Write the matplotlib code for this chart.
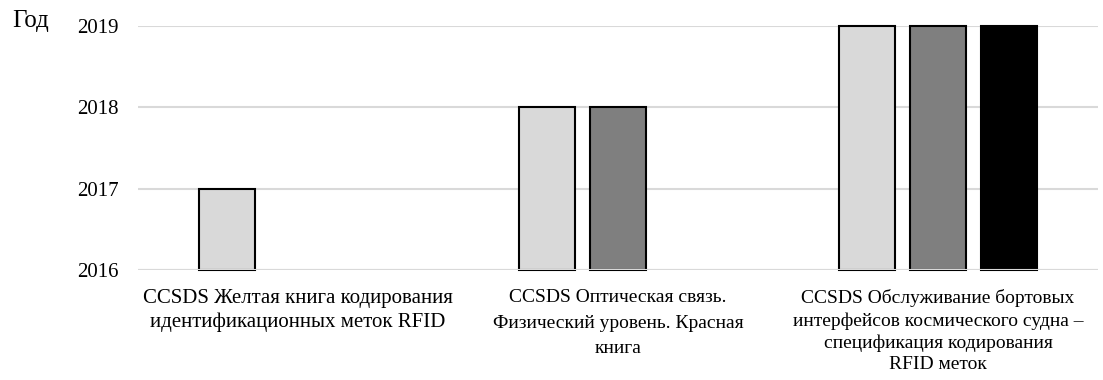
import matplotlib
matplotlib.use("Agg")
import matplotlib.pyplot as plt
import numpy as np

categories = [
    "CCSDS Желтая книга кодирования\nидентификационных меток RFID",
    "CCSDS Оптическая связь.\nФизический уровень. Красная\nкнига",
    "CCSDS Обслуживание бортовых\nинтерфейсов космического судна –\nспецификация кодирования\nRFID меток",
]
series1 = [2017, 2018, 2019]
series2 = [np.nan, 2018, 2019]
series3 = [np.nan, np.nan, 2019]
yticks = [2016, 2017, 2018, 2019]
ylabel = "Год"

plt.rcParams['font.family'] = ['Liberation Serif', 'DejaVu Serif']
fig = plt.figure(figsize=(11.03, 3.80), dpi=100)
ax = fig.add_axes([138/1103, 1-270/380, 960/1103, (270-26)/380])

base = 2016
slot = 71/320
width = 56/320
x = np.arange(len(categories))
colors = ['#d9d9d9', '#7f7f7f', '#000000']
for i, (s, c) in enumerate(zip([series1, series2, series3], colors)):
    vals = np.array(s, dtype=float)
    ax.bar(x + (i-1)*slot, vals - base, width, bottom=base, color=c,
           edgecolor='black', linewidth=1.5, zorder=2, clip_on=False)

ax.set_xlim(-0.5, len(categories)-0.5)
ax.set_ylim(2016, 2019)
ax.set_yticks(yticks)
ax.yaxis.grid(True, color='#d9d9d9', linewidth=1.5, zorder=0)
ax.axhline(2016, color='#d9d9d9', linewidth=1.5, zorder=3)
ax.set_axisbelow(True)
for sp in ax.spines.values():
    sp.set_visible(False)
ax.tick_params(axis='y', length=0, pad=14, labelsize=15)
ax.tick_params(axis='x', length=0, pad=14, labelsize=14)
ax.set_xticks(x)
ax.set_xticklabels(categories)
labels = ax.get_xticklabels()
for lbl in labels:
    lbl.set_verticalalignment('top')
    lbl.set_linespacing(1.35)
labels[0].set_fontsize(15)
labels[0].set_linespacing(1.3)
labels[1].set_linespacing(1.65)
ax.text(12/1103, 1-21/380, ylabel, transform=fig.transFigure, fontsize=18,
        ha='left', va='center')

fig.savefig("out.png", dpi=100)
